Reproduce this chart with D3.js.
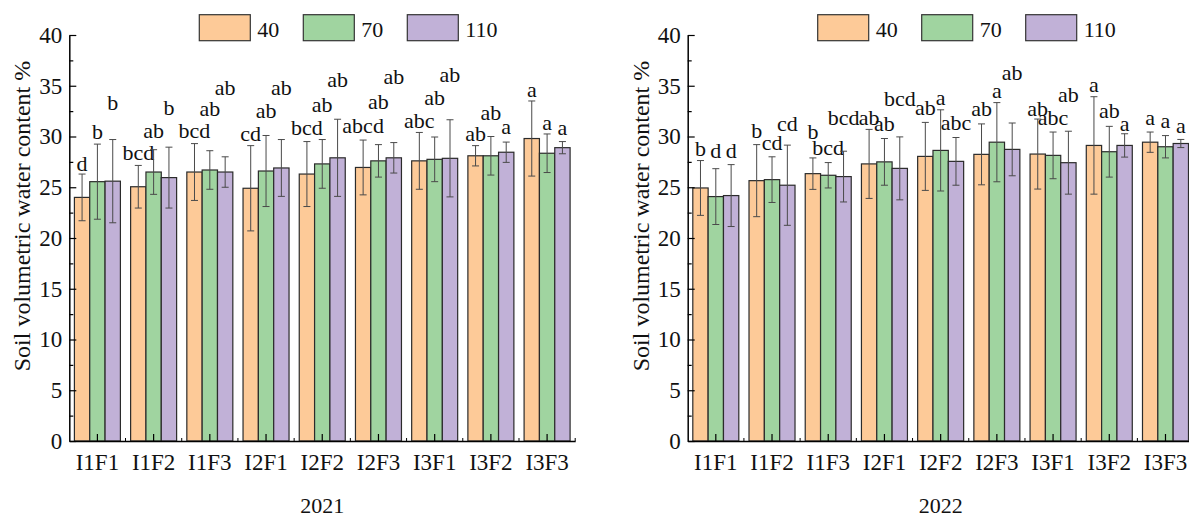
<!DOCTYPE html>
<html>
<head>
    <meta charset="utf-8">
    <script src="https://cdnjs.cloudflare.com/ajax/libs/d3/7.8.5/d3.min.js"></script>
    <style>
        body { margin: 0; background: #fff; }
        svg text { font-family: "Liberation Serif", "Times New Roman", serif; fill: #111; }
    </style>
</head>
<body>
    <div id="viz"></div>
    <script type="text/javascript">

    // categories + legend
    var categories = ["I1F1", "I1F2", "I1F3", "I2F1", "I2F2", "I2F3", "I3F1", "I3F2", "I3F3"];
    var series = ["40", "70", "110"];
    var colors = ["#FDCA98", "#A0D4A0", "#C1B1D7"];
    var yTicks = [0, 5, 10, 15, 20, 25, 30, 35, 40];

    // 2021 means / sd, one row per series (40, 70, 110)
    var mean2021 = [
        [24.0, 25.05, 26.5, 24.9, 26.3, 26.95, 27.6, 28.1, 29.8],
        [25.55, 26.5, 26.7, 26.6, 27.3, 27.6, 27.75, 28.1, 28.35],
        [25.6, 25.95, 26.5, 26.9, 27.9, 27.9, 27.85, 28.45, 28.9]
    ];
    var sd2021 = [
        [2.3, 2.1, 2.8, 4.2, 3.2, 2.7, 2.8, 1.0, 3.7],
        [3.7, 2.2, 1.9, 3.5, 2.4, 1.6, 2.2, 1.9, 1.9],
        [4.1, 3.0, 1.5, 2.8, 3.8, 1.5, 3.8, 1.0, 0.6]
    ];
    var letters2021 = [
        ["d", "bcd", "bcd", "cd", "bcd", "abcd", "abc", "ab", "a"],
        ["b", "ab", "ab", "ab", "ab", "ab", "ab", "ab", "a"],
        ["b", "b", "ab", "ab", "ab", "ab", "ab", "a", "a"]
    ];
    // height (in %) where each letter sits
    var letterAt2021 = [
        [26.65, 27.7, 29.9, 29.6, 30.1, 30.3, 30.8, 29.6, 33.9],
        [29.8, 29.9, 32.05, 31.8, 32.45, 32.7, 33.1, 31.6, 30.6],
        [32.6, 32.1, 34.1, 34.1, 34.9, 35.2, 35.4, 30.2, 30.15]
    ];

    // 2022
    var mean2022 = [
        [24.93, 25.65, 26.34, 27.3, 28.04, 28.24, 28.27, 29.12, 29.44],
        [24.08, 25.75, 26.18, 27.5, 28.63, 29.44, 28.14, 28.5, 28.99],
        [24.18, 25.2, 26.05, 26.86, 27.55, 28.73, 27.42, 29.12, 29.31]
    ];
    var sd2022 = [
        [2.7, 3.55, 1.55, 3.4, 3.35, 3.0, 3.45, 4.8, 1.0],
        [2.75, 2.25, 1.25, 2.3, 4.0, 3.9, 2.3, 2.5, 1.1],
        [3.05, 3.95, 2.5, 3.1, 2.35, 2.6, 3.1, 1.15, 0.4]
    ];
    var letters2022 = [
        ["b", "b", "b", "ab", "ab", "ab", "ab", "a", "a"],
        ["d", "cd", "bcd", "ab", "a", "a", "abc", "ab", "a"],
        ["d", "cd", "bcd", "bcd", "abc", "ab", "ab", "a", "a"]
    ];
    var letterAt2022 = [
        [28.05, 29.9, 29.8, 31.1, 32.1, 32.0, 32.0, 34.4, 31.1],
        [27.85, 28.7, 28.2, 30.5, 33.1, 33.8, 31.1, 31.8, 30.8],
        [27.85, 30.55, 31.1, 33.0, 30.6, 35.6, 33.4, 30.5, 30.3]
    ];

    var W = 1189, H = 517;
    var svg = d3.select("#viz").append("svg")
        .attr("width", W)
        .attr("height", H);

    var y = d3.scaleLinear().domain([0, 40]).range([441, 35]);

    function panel(x0, x1, means, sds, letters, letterAt, year) {
        var g = svg.append("g");

        var x = d3.scaleBand().domain(categories).range([x0, x1]).padding(0);
        var xs = d3.scaleBand().domain(series).range([0, x.bandwidth()])
            .paddingInner(0).paddingOuter(0.333);

        // bars
        series.forEach(function(s, si) {
            var rows = categories.map(function(c, ci) {
                return {c: c, v: means[si][ci], sd: sds[si][ci], t: letters[si][ci], ly: letterAt[si][ci]};
            });
            g.selectAll(".bar" + si).data(rows).enter().append("rect")
                .attr("x", function(d) { return x(d.c) + xs(s); })
                .attr("y", function(d) { return y(d.v); })
                .attr("width", xs.bandwidth())
                .attr("height", function(d) { return y(0) - y(d.v); })
                .style("fill", colors[si])
                .style("stroke", "#2b2b2b")
                .style("stroke-width", 1.2);
        });

        // error bars + letters on top
        series.forEach(function(s, si) {
            var rows = categories.map(function(c, ci) {
                return {c: c, v: means[si][ci], sd: sds[si][ci], t: letters[si][ci], ly: letterAt[si][ci]};
            });
            var cx = function(d) { return x(d.c) + xs(s) + xs.bandwidth() / 2; };
            var eb = g.selectAll(".err" + si).data(rows).enter().append("g")
                .style("stroke", "#4a4a4a").style("stroke-width", 1);
            eb.append("line")
                .attr("x1", cx).attr("x2", cx)
                .attr("y1", function(d) { return y(d.v - d.sd); })
                .attr("y2", function(d) { return y(d.v + d.sd); });
            eb.append("line")
                .attr("x1", function(d) { return cx(d) - 3.5; }).attr("x2", function(d) { return cx(d) + 3.5; })
                .attr("y1", function(d) { return y(d.v + d.sd); })
                .attr("y2", function(d) { return y(d.v + d.sd); });
            eb.append("line")
                .attr("x1", function(d) { return cx(d) - 3.5; }).attr("x2", function(d) { return cx(d) + 3.5; })
                .attr("y1", function(d) { return y(d.v - d.sd); })
                .attr("y2", function(d) { return y(d.v - d.sd); });

            g.selectAll(".lab" + si).data(rows).enter().append("text")
                .attr("x", cx)
                .attr("y", function(d) { return y(d.ly); })
                .attr("text-anchor", "middle")
                .style("font-size", "22px")
                .text(function(d) { return d.t; });
        });

        // y axis (ticks pointing inward)
        var ya = g.append("g").attr("transform", "translate(" + x0 + ",0)")
            .call(d3.axisLeft(y).tickValues(yTicks).tickSizeInner(-7).tickSizeOuter(0).tickPadding(7));
        ya.selectAll("text").style("font-size", "23px");
        g.append("g").attr("transform", "translate(" + x0 + ",0)")
            .call(d3.axisLeft(y).tickValues(yTicks.slice(0, -1).map(function(t) { return t + 2.5; }))
                .tickSizeInner(-4).tickSizeOuter(0).tickFormat(""))
            .select(".domain").remove();

        // x axis
        var xa = g.append("g").attr("transform", "translate(0," + y(0) + ")")
            .call(d3.axisBottom(x).tickSizeInner(-7).tickSizeOuter(0).tickPadding(13));
        xa.selectAll("text").style("font-size", "23px");
        // little ticks between groups
        g.selectAll(".minx").data(categories.slice(1).concat(["end"])).enter().append("line")
            .attr("x1", function(d, i) { return x0 + (i + 1) * x.step(); })
            .attr("x2", function(d, i) { return x0 + (i + 1) * x.step(); })
            .attr("y1", y(0)).attr("y2", y(0) - 3)
            .style("stroke", "#000");

        g.selectAll(".domain").style("stroke-width", 1.5);
        g.selectAll(".tick line").style("stroke-width", 1.2);

        g.append("text")
            .attr("x", (x0 + x1) / 2)
            .attr("y", 513)
            .attr("text-anchor", "middle")
            .style("font-size", "22px")
            .text(year);

        g.append("text")
            .attr("transform", "translate(" + (x0 - 39) + ",216) rotate(-90)")
            .attr("text-anchor", "middle")
            .style("font-size", "24px")
            .text("Soil volumetric water content %");

        // legend
        series.forEach(function(s, si) {
            var lx = x0 + 130 + si * 104;
            g.append("rect")
                .attr("x", lx).attr("y", 14.7)
                .attr("width", 51).attr("height", 26)
                .style("fill", colors[si])
                .style("stroke", "#333")
                .style("stroke-width", 1.2);
            g.append("text")
                .attr("x", lx + 58).attr("y", 37)
                .style("font-size", "22px")
                .text(s);
        });
    }

    panel(69.3, 575.2, mean2021, sd2021, letters2021, letterAt2021, "2021");
    panel(687.7, 1193.6, mean2022, sd2022, letters2022, letterAt2022, "2022");

    </script>
</body>
</html>
